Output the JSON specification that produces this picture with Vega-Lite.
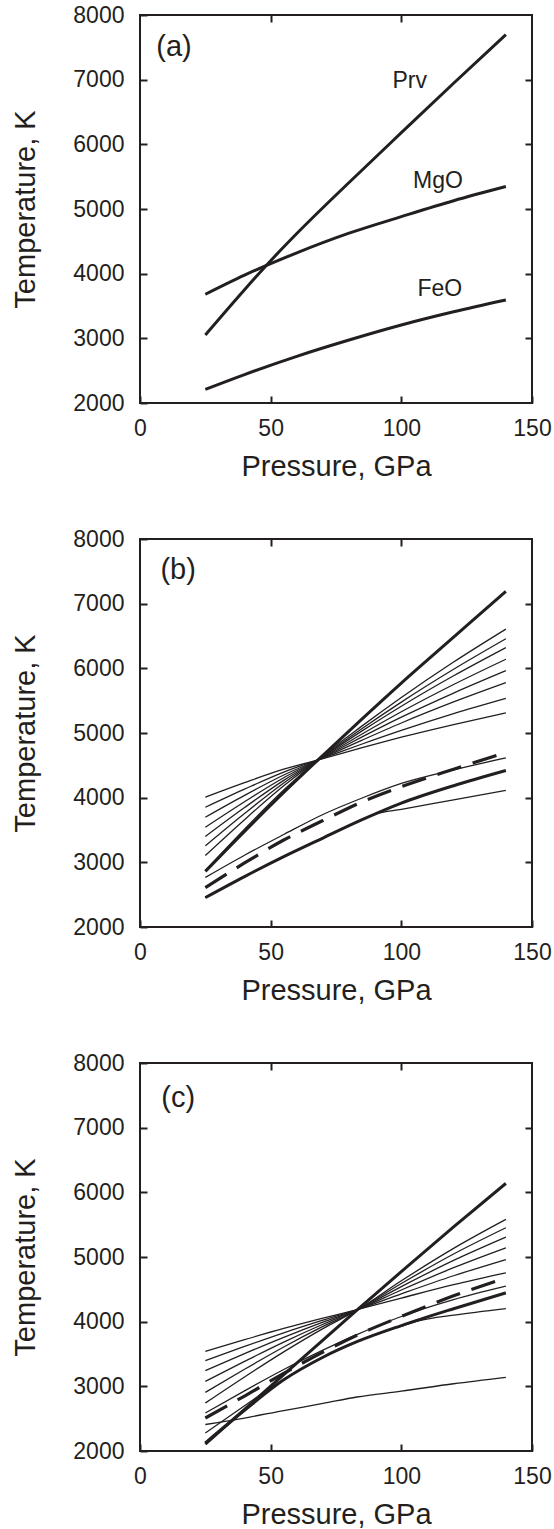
{
  "$schema": "https://vega.github.io/schema/vega-lite/v6.json",
  "background": "white",
  "padding": {"left": 10, "top": 3, "right": 5, "bottom": 5},
  "bounds": "flush",
  "spacing": 136,
  "config": {
    "font": "Liberation Sans",
    "view": {"stroke": "#231f20", "strokeWidth": 2},
    "axis": {
      "labelFont": "Liberation Sans", "titleFont": "Liberation Sans",
      "labelFontSize": 23, "titleFontSize": 29, "titleFontWeight": "normal",
      "labelColor": "#231f20", "titleColor": "#231f20",
      "ticks": true, "tickColor": "#231f20", "tickOpacity": 1, "tickWidth": 2, "tickSize": 7, "offset": -7,
      "grid": false, "domain": false, "labelFlush": false, "labelOverlap": false, "labelBound": false, "format": "d"
    },
    "axisX": {"labelPadding": 14.5},
    "axisY": {"labelPadding": 16},
    "line": {"color": "#231f20", "interpolate": "monotone", "strokeCap": "butt"},
    "text": {"font": "Liberation Sans", "color": "#231f20"}
  },
  "datasets": {
    "curves": [
      {"panel":"a","curve":"Prv","role":"pure","P":25,"T":3052},
      {"panel":"a","curve":"Prv","role":"pure","P":40,"T":3752},
      {"panel":"a","curve":"Prv","role":"pure","P":50,"T":4200},
      {"panel":"a","curve":"Prv","role":"pure","P":60,"T":4620},
      {"panel":"a","curve":"Prv","role":"pure","P":80,"T":5410},
      {"panel":"a","curve":"Prv","role":"pure","P":100,"T":6180},
      {"panel":"a","curve":"Prv","role":"pure","P":120,"T":6945},
      {"panel":"a","curve":"Prv","role":"pure","P":140,"T":7695},
      {"panel":"a","curve":"MgO","role":"pure","P":25,"T":3681},
      {"panel":"a","curve":"MgO","role":"pure","P":40,"T":3977},
      {"panel":"a","curve":"MgO","role":"pure","P":60,"T":4322},
      {"panel":"a","curve":"MgO","role":"pure","P":80,"T":4626},
      {"panel":"a","curve":"MgO","role":"pure","P":100,"T":4882},
      {"panel":"a","curve":"MgO","role":"pure","P":120,"T":5128},
      {"panel":"a","curve":"MgO","role":"pure","P":140,"T":5347},
      {"panel":"a","curve":"FeO","role":"pure","P":25,"T":2211},
      {"panel":"a","curve":"FeO","role":"pure","P":40,"T":2440},
      {"panel":"a","curve":"FeO","role":"pure","P":60,"T":2722},
      {"panel":"a","curve":"FeO","role":"pure","P":80,"T":2974},
      {"panel":"a","curve":"FeO","role":"pure","P":100,"T":3206},
      {"panel":"a","curve":"FeO","role":"pure","P":120,"T":3410},
      {"panel":"a","curve":"FeO","role":"pure","P":140,"T":3593},

      {"panel":"b","curve":"top","role":"pure","P":25,"T":2860},
      {"panel":"b","curve":"top","role":"pure","P":40,"T":3479},
      {"panel":"b","curve":"top","role":"pure","P":55,"T":4081},
      {"panel":"b","curve":"top","role":"pure","P":70,"T":4655},
      {"panel":"b","curve":"top","role":"pure","P":85,"T":5218},
      {"panel":"b","curve":"top","role":"pure","P":100,"T":5771},
      {"panel":"b","curve":"top","role":"pure","P":120,"T":6481},
      {"panel":"b","curve":"top","role":"pure","P":140,"T":7191},
      {"panel":"b","curve":"m1","role":"mix","P":25,"T":4008},
      {"panel":"b","curve":"m1","role":"mix","P":40,"T":4232},
      {"panel":"b","curve":"m1","role":"mix","P":55,"T":4440},
      {"panel":"b","curve":"m1","role":"mix","P":70,"T":4604},
      {"panel":"b","curve":"m1","role":"mix","P":85,"T":4775},
      {"panel":"b","curve":"m1","role":"mix","P":100,"T":4935},
      {"panel":"b","curve":"m1","role":"mix","P":120,"T":5130},
      {"panel":"b","curve":"m1","role":"mix","P":140,"T":5312},
      {"panel":"b","curve":"m2","role":"mix","P":25,"T":3852},
      {"panel":"b","curve":"m2","role":"mix","P":40,"T":4132},
      {"panel":"b","curve":"m2","role":"mix","P":55,"T":4395},
      {"panel":"b","curve":"m2","role":"mix","P":70,"T":4610},
      {"panel":"b","curve":"m2","role":"mix","P":85,"T":4830},
      {"panel":"b","curve":"m2","role":"mix","P":100,"T":5040},
      {"panel":"b","curve":"m2","role":"mix","P":120,"T":5300},
      {"panel":"b","curve":"m2","role":"mix","P":140,"T":5536},
      {"panel":"b","curve":"m3","role":"mix","P":25,"T":3697},
      {"panel":"b","curve":"m3","role":"mix","P":40,"T":4035},
      {"panel":"b","curve":"m3","role":"mix","P":55,"T":4350},
      {"panel":"b","curve":"m3","role":"mix","P":70,"T":4616},
      {"panel":"b","curve":"m3","role":"mix","P":85,"T":4890},
      {"panel":"b","curve":"m3","role":"mix","P":100,"T":5155},
      {"panel":"b","curve":"m3","role":"mix","P":120,"T":5480},
      {"panel":"b","curve":"m3","role":"mix","P":140,"T":5778},
      {"panel":"b","curve":"m4","role":"mix","P":25,"T":3542},
      {"panel":"b","curve":"m4","role":"mix","P":40,"T":3937},
      {"panel":"b","curve":"m4","role":"mix","P":55,"T":4308},
      {"panel":"b","curve":"m4","role":"mix","P":70,"T":4622},
      {"panel":"b","curve":"m4","role":"mix","P":85,"T":4940},
      {"panel":"b","curve":"m4","role":"mix","P":100,"T":5245},
      {"panel":"b","curve":"m4","role":"mix","P":120,"T":5618},
      {"panel":"b","curve":"m4","role":"mix","P":140,"T":5964},
      {"panel":"b","curve":"m5","role":"mix","P":25,"T":3400},
      {"panel":"b","curve":"m5","role":"mix","P":40,"T":3847},
      {"panel":"b","curve":"m5","role":"mix","P":55,"T":4268},
      {"panel":"b","curve":"m5","role":"mix","P":70,"T":4628},
      {"panel":"b","curve":"m5","role":"mix","P":85,"T":4985},
      {"panel":"b","curve":"m5","role":"mix","P":100,"T":5328},
      {"panel":"b","curve":"m5","role":"mix","P":120,"T":5750},
      {"panel":"b","curve":"m5","role":"mix","P":140,"T":6141},
      {"panel":"b","curve":"m6","role":"mix","P":25,"T":3255},
      {"panel":"b","curve":"m6","role":"mix","P":40,"T":3755},
      {"panel":"b","curve":"m6","role":"mix","P":55,"T":4227},
      {"panel":"b","curve":"m6","role":"mix","P":70,"T":4634},
      {"panel":"b","curve":"m6","role":"mix","P":85,"T":5033},
      {"panel":"b","curve":"m6","role":"mix","P":100,"T":5414},
      {"panel":"b","curve":"m6","role":"mix","P":120,"T":5885},
      {"panel":"b","curve":"m6","role":"mix","P":140,"T":6321},
      {"panel":"b","curve":"m7","role":"mix","P":25,"T":3106},
      {"panel":"b","curve":"m7","role":"mix","P":40,"T":3660},
      {"panel":"b","curve":"m7","role":"mix","P":55,"T":4184},
      {"panel":"b","curve":"m7","role":"mix","P":70,"T":4640},
      {"panel":"b","curve":"m7","role":"mix","P":85,"T":5070},
      {"panel":"b","curve":"m7","role":"mix","P":100,"T":5478},
      {"panel":"b","curve":"m7","role":"mix","P":120,"T":5985},
      {"panel":"b","curve":"m7","role":"mix","P":140,"T":6457},
      {"panel":"b","curve":"m8","role":"mix","P":25,"T":2875},
      {"panel":"b","curve":"m8","role":"mix","P":40,"T":3514},
      {"panel":"b","curve":"m8","role":"mix","P":55,"T":4118},
      {"panel":"b","curve":"m8","role":"mix","P":70,"T":4648},
      {"panel":"b","curve":"m8","role":"mix","P":85,"T":5110},
      {"panel":"b","curve":"m8","role":"mix","P":100,"T":5550},
      {"panel":"b","curve":"m8","role":"mix","P":120,"T":6098},
      {"panel":"b","curve":"m8","role":"mix","P":140,"T":6607},
      {"panel":"b","curve":"mean","role":"mean","P":25,"T":2610},
      {"panel":"b","curve":"mean","role":"mean","P":40,"T":2990},
      {"panel":"b","curve":"mean","role":"mean","P":55,"T":3345},
      {"panel":"b","curve":"mean","role":"mean","P":70,"T":3646},
      {"panel":"b","curve":"mean","role":"mean","P":85,"T":3935},
      {"panel":"b","curve":"mean","role":"mean","P":100,"T":4170},
      {"panel":"b","curve":"mean","role":"mean","P":120,"T":4440},
      {"panel":"b","curve":"mean","role":"mean","P":140,"T":4697},
      {"panel":"b","curve":"m9","role":"mix","P":25,"T":2766},
      {"panel":"b","curve":"m9","role":"mix","P":40,"T":3110},
      {"panel":"b","curve":"m9","role":"mix","P":55,"T":3430},
      {"panel":"b","curve":"m9","role":"mix","P":70,"T":3740},
      {"panel":"b","curve":"m9","role":"mix","P":85,"T":3995},
      {"panel":"b","curve":"m9","role":"mix","P":100,"T":4220},
      {"panel":"b","curve":"m9","role":"mix","P":120,"T":4430},
      {"panel":"b","curve":"m9","role":"mix","P":140,"T":4614},
      {"panel":"b","curve":"bottom","role":"pure","P":25,"T":2455},
      {"panel":"b","curve":"bottom","role":"pure","P":40,"T":2780},
      {"panel":"b","curve":"bottom","role":"pure","P":55,"T":3088},
      {"panel":"b","curve":"bottom","role":"pure","P":70,"T":3376},
      {"panel":"b","curve":"bottom","role":"pure","P":85,"T":3659},
      {"panel":"b","curve":"bottom","role":"pure","P":100,"T":3915},
      {"panel":"b","curve":"bottom","role":"pure","P":120,"T":4185},
      {"panel":"b","curve":"bottom","role":"pure","P":140,"T":4420},
      {"panel":"b","curve":"m10","role":"mix","P":25,"T":2455},
      {"panel":"b","curve":"m10","role":"mix","P":40,"T":2780},
      {"panel":"b","curve":"m10","role":"mix","P":55,"T":3088},
      {"panel":"b","curve":"m10","role":"mix","P":70,"T":3376},
      {"panel":"b","curve":"m10","role":"mix","P":85,"T":3659},
      {"panel":"b","curve":"m10","role":"mix","P":90,"T":3745},
      {"panel":"b","curve":"m10","role":"mix","P":100,"T":3820},
      {"panel":"b","curve":"m10","role":"mix","P":120,"T":3966},
      {"panel":"b","curve":"m10","role":"mix","P":140,"T":4113},

      {"panel":"c","curve":"top","role":"pure","P":25,"T":2107},
      {"panel":"c","curve":"top","role":"pure","P":40,"T":2645},
      {"panel":"c","curve":"top","role":"pure","P":55,"T":3180},
      {"panel":"c","curve":"top","role":"pure","P":70,"T":3715},
      {"panel":"c","curve":"top","role":"pure","P":83,"T":4180},
      {"panel":"c","curve":"top","role":"pure","P":100,"T":4775},
      {"panel":"c","curve":"top","role":"pure","P":120,"T":5465},
      {"panel":"c","curve":"top","role":"pure","P":140,"T":6138},
      {"panel":"c","curve":"c1","role":"mix","P":25,"T":3542},
      {"panel":"c","curve":"c1","role":"mix","P":40,"T":3722},
      {"panel":"c","curve":"c1","role":"mix","P":55,"T":3895},
      {"panel":"c","curve":"c1","role":"mix","P":70,"T":4055},
      {"panel":"c","curve":"c1","role":"mix","P":83,"T":4185},
      {"panel":"c","curve":"c1","role":"mix","P":100,"T":4365},
      {"panel":"c","curve":"c1","role":"mix","P":120,"T":4572},
      {"panel":"c","curve":"c1","role":"mix","P":140,"T":4755},
      {"panel":"c","curve":"c2","role":"mix","P":25,"T":3397},
      {"panel":"c","curve":"c2","role":"mix","P":40,"T":3617},
      {"panel":"c","curve":"c2","role":"mix","P":55,"T":3828},
      {"panel":"c","curve":"c2","role":"mix","P":70,"T":4023},
      {"panel":"c","curve":"c2","role":"mix","P":83,"T":4183},
      {"panel":"c","curve":"c2","role":"mix","P":100,"T":4430},
      {"panel":"c","curve":"c2","role":"mix","P":120,"T":4710},
      {"panel":"c","curve":"c2","role":"mix","P":140,"T":4961},
      {"panel":"c","curve":"c3","role":"mix","P":25,"T":3243},
      {"panel":"c","curve":"c3","role":"mix","P":40,"T":3506},
      {"panel":"c","curve":"c3","role":"mix","P":55,"T":3758},
      {"panel":"c","curve":"c3","role":"mix","P":70,"T":3993},
      {"panel":"c","curve":"c3","role":"mix","P":83,"T":4181},
      {"panel":"c","curve":"c3","role":"mix","P":100,"T":4490},
      {"panel":"c","curve":"c3","role":"mix","P":120,"T":4835},
      {"panel":"c","curve":"c3","role":"mix","P":140,"T":5142},
      {"panel":"c","curve":"c4","role":"mix","P":25,"T":3077},
      {"panel":"c","curve":"c4","role":"mix","P":40,"T":3386},
      {"panel":"c","curve":"c4","role":"mix","P":55,"T":3684},
      {"panel":"c","curve":"c4","role":"mix","P":70,"T":3960},
      {"panel":"c","curve":"c4","role":"mix","P":83,"T":4180},
      {"panel":"c","curve":"c4","role":"mix","P":100,"T":4543},
      {"panel":"c","curve":"c4","role":"mix","P":120,"T":4947},
      {"panel":"c","curve":"c4","role":"mix","P":140,"T":5307},
      {"panel":"c","curve":"c5","role":"mix","P":25,"T":2907},
      {"panel":"c","curve":"c5","role":"mix","P":40,"T":3264},
      {"panel":"c","curve":"c5","role":"mix","P":55,"T":3608},
      {"panel":"c","curve":"c5","role":"mix","P":70,"T":3926},
      {"panel":"c","curve":"c5","role":"mix","P":83,"T":4178},
      {"panel":"c","curve":"c5","role":"mix","P":100,"T":4590},
      {"panel":"c","curve":"c5","role":"mix","P":120,"T":5046},
      {"panel":"c","curve":"c5","role":"mix","P":140,"T":5452},
      {"panel":"c","curve":"c6","role":"mix","P":25,"T":2742},
      {"panel":"c","curve":"c6","role":"mix","P":40,"T":3145},
      {"panel":"c","curve":"c6","role":"mix","P":55,"T":3533},
      {"panel":"c","curve":"c6","role":"mix","P":70,"T":3893},
      {"panel":"c","curve":"c6","role":"mix","P":83,"T":4176},
      {"panel":"c","curve":"c6","role":"mix","P":100,"T":4632},
      {"panel":"c","curve":"c6","role":"mix","P":120,"T":5133},
      {"panel":"c","curve":"c6","role":"mix","P":140,"T":5581},
      {"panel":"c","curve":"mean","role":"mean","P":25,"T":2510},
      {"panel":"c","curve":"mean","role":"mean","P":40,"T":2850},
      {"panel":"c","curve":"mean","role":"mean","P":55,"T":3200},
      {"panel":"c","curve":"mean","role":"mean","P":70,"T":3530},
      {"panel":"c","curve":"mean","role":"mean","P":83,"T":3790},
      {"panel":"c","curve":"mean","role":"mean","P":100,"T":4080},
      {"panel":"c","curve":"mean","role":"mean","P":120,"T":4400},
      {"panel":"c","curve":"mean","role":"mean","P":140,"T":4677},
      {"panel":"c","curve":"bottom","role":"pure","P":25,"T":2125},
      {"panel":"c","curve":"bottom","role":"pure","P":40,"T":2630},
      {"panel":"c","curve":"bottom","role":"pure","P":55,"T":3100},
      {"panel":"c","curve":"bottom","role":"pure","P":70,"T":3450},
      {"panel":"c","curve":"bottom","role":"pure","P":83,"T":3690},
      {"panel":"c","curve":"bottom","role":"pure","P":100,"T":3940},
      {"panel":"c","curve":"bottom","role":"pure","P":120,"T":4200},
      {"panel":"c","curve":"bottom","role":"pure","P":140,"T":4445},
      {"panel":"c","curve":"c7","role":"mix","P":25,"T":2277},
      {"panel":"c","curve":"c7","role":"mix","P":40,"T":2700},
      {"panel":"c","curve":"c7","role":"mix","P":55,"T":3110},
      {"panel":"c","curve":"c7","role":"mix","P":70,"T":3450},
      {"panel":"c","curve":"c7","role":"mix","P":83,"T":3690},
      {"panel":"c","curve":"c7","role":"mix","P":100,"T":3930},
      {"panel":"c","curve":"c7","role":"mix","P":107,"T":4015},
      {"panel":"c","curve":"c7","role":"mix","P":120,"T":4100},
      {"panel":"c","curve":"c7","role":"mix","P":140,"T":4203},
      {"panel":"c","curve":"c8","role":"mix","P":25,"T":2587},
      {"panel":"c","curve":"c8","role":"mix","P":40,"T":2930},
      {"panel":"c","curve":"c8","role":"mix","P":55,"T":3260},
      {"panel":"c","curve":"c8","role":"mix","P":70,"T":3560},
      {"panel":"c","curve":"c8","role":"mix","P":83,"T":3800},
      {"panel":"c","curve":"c8","role":"mix","P":100,"T":4080},
      {"panel":"c","curve":"c8","role":"mix","P":120,"T":4340},
      {"panel":"c","curve":"c8","role":"mix","P":140,"T":4548},
      {"panel":"c","curve":"c9","role":"mix","P":25,"T":2410},
      {"panel":"c","curve":"c9","role":"mix","P":40,"T":2510},
      {"panel":"c","curve":"c9","role":"mix","P":55,"T":2625},
      {"panel":"c","curve":"c9","role":"mix","P":70,"T":2735},
      {"panel":"c","curve":"c9","role":"mix","P":83,"T":2835},
      {"panel":"c","curve":"c9","role":"mix","P":100,"T":2925},
      {"panel":"c","curve":"c9","role":"mix","P":120,"T":3040},
      {"panel":"c","curve":"c9","role":"mix","P":140,"T":3139}
    ],
    "tags": [
      {"panel":"a","tag":"(a)","P":13.0,"T":7505},
      {"panel":"b","tag":"(b)","P":14.6,"T":7517},
      {"panel":"c","tag":"(c)","P":14.6,"T":7454}
    ],
    "names": [
      {"panel":"a","name":"Prv","P":103.2,"T":6972},
      {"panel":"a","name":"MgO","P":114.0,"T":5435},
      {"panel":"a","name":"FeO","P":114.7,"T":3759}
    ]
  },
  "vconcat": [
    {
      "width": 392, "height": 388,
      "resolve": {"axis": {"x": "independent", "y": "independent"}},
      "layer": [
        {
          "data": {"name": "curves"},
          "transform": [{"filter": "datum.panel === 'a' && datum.role === 'pure'"}],
          "mark": {"type": "line", "strokeWidth": 3},
          "encoding": {
            "x": {"field": "P", "type": "quantitative", "scale": {"domain": [0, 150], "nice": false},
                  "axis": {"orient": "bottom", "values": [0, 50, 100, 150], "title": "Pressure, GPa", "titleY": 79, "titleBaseline": "alphabetic"}},
            "y": {"field": "T", "type": "quantitative", "scale": {"domain": [2000, 8000], "nice": false, "zero": false},
                  "axis": {"orient": "left", "values": [2000, 3000, 4000, 5000, 6000, 7000, 8000], "title": "Temperature, K", "titleX": -113, "titleBaseline": "alphabetic"}},
            "detail": {"field": "curve", "type": "nominal"}
          }
        },
        {
          "data": {"name": "tags"},
          "transform": [{"filter": "datum.panel === 'a'"}],
          "mark": {"type": "text", "fontSize": 29, "align": "center", "baseline": "middle"},
          "encoding": {
            "x": {"field": "P", "type": "quantitative", "scale": {"domain": [0, 150], "nice": false},
                  "axis": {"orient": "top", "values": [50, 100], "labels": false, "title": null}},
            "y": {"field": "T", "type": "quantitative", "scale": {"domain": [2000, 8000], "nice": false, "zero": false},
                  "axis": {"orient": "right", "values": [3000, 4000, 5000, 6000, 7000], "labels": false, "title": null}},
            "text": {"field": "tag"}
          }
        },
        {
          "data": {"name": "names"},
          "transform": [{"filter": "datum.panel === 'a'"}],
          "mark": {"type": "text", "fontSize": 23, "align": "center", "baseline": "middle"},
          "encoding": {
            "x": {"field": "P", "type": "quantitative", "scale": {"domain": [0, 150], "nice": false}, "axis": null},
            "y": {"field": "T", "type": "quantitative", "scale": {"domain": [2000, 8000], "nice": false, "zero": false}, "axis": null},
            "text": {"field": "name"}
          }
        }
      ]
    },
    {
      "width": 392, "height": 388,
      "resolve": {"axis": {"x": "independent", "y": "independent"}},
      "layer": [
        {
          "data": {"name": "curves"},
          "transform": [{"filter": "datum.panel === 'b' && datum.role === 'pure'"}],
          "mark": {"type": "line", "strokeWidth": 3},
          "encoding": {
            "x": {"field": "P", "type": "quantitative", "scale": {"domain": [0, 150], "nice": false},
                  "axis": {"orient": "bottom", "values": [0, 50, 100, 150], "title": "Pressure, GPa", "titleY": 79, "titleBaseline": "alphabetic"}},
            "y": {"field": "T", "type": "quantitative", "scale": {"domain": [2000, 8000], "nice": false, "zero": false},
                  "axis": {"orient": "left", "values": [2000, 3000, 4000, 5000, 6000, 7000, 8000], "title": "Temperature, K", "titleX": -113, "titleBaseline": "alphabetic"}},
            "detail": {"field": "curve", "type": "nominal"}
          }
        },
        {
          "data": {"name": "curves"},
          "transform": [{"filter": "datum.panel === 'b' && datum.role === 'mix'"}],
          "mark": {"type": "line", "strokeWidth": 1.3},
          "encoding": {
            "x": {"field": "P", "type": "quantitative", "scale": {"domain": [0, 150], "nice": false}, "axis": null},
            "y": {"field": "T", "type": "quantitative", "scale": {"domain": [2000, 8000], "nice": false, "zero": false}, "axis": null},
            "detail": {"field": "curve", "type": "nominal"}
          }
        },
        {
          "data": {"name": "curves"},
          "transform": [{"filter": "datum.panel === 'b' && datum.role === 'mean'"}],
          "mark": {"type": "line", "strokeWidth": 3.2, "strokeDash": [25, 12]},
          "encoding": {
            "x": {"field": "P", "type": "quantitative", "scale": {"domain": [0, 150], "nice": false}, "axis": null},
            "y": {"field": "T", "type": "quantitative", "scale": {"domain": [2000, 8000], "nice": false, "zero": false}, "axis": null},
            "detail": {"field": "curve", "type": "nominal"}
          }
        },
        {
          "data": {"name": "tags"},
          "transform": [{"filter": "datum.panel === 'b'"}],
          "mark": {"type": "text", "fontSize": 29, "align": "center", "baseline": "middle"},
          "encoding": {
            "x": {"field": "P", "type": "quantitative", "scale": {"domain": [0, 150], "nice": false},
                  "axis": {"orient": "top", "values": [50, 100], "labels": false, "title": null}},
            "y": {"field": "T", "type": "quantitative", "scale": {"domain": [2000, 8000], "nice": false, "zero": false},
                  "axis": {"orient": "right", "values": [3000, 4000, 5000, 6000, 7000], "labels": false, "title": null}},
            "text": {"field": "tag"}
          }
        }
      ]
    },
    {
      "width": 392, "height": 388,
      "resolve": {"axis": {"x": "independent", "y": "independent"}},
      "layer": [
        {
          "data": {"name": "curves"},
          "transform": [{"filter": "datum.panel === 'c' && datum.role === 'pure'"}],
          "mark": {"type": "line", "strokeWidth": 3},
          "encoding": {
            "x": {"field": "P", "type": "quantitative", "scale": {"domain": [0, 150], "nice": false},
                  "axis": {"orient": "bottom", "values": [0, 50, 100, 150], "title": "Pressure, GPa", "titleY": 79, "titleBaseline": "alphabetic"}},
            "y": {"field": "T", "type": "quantitative", "scale": {"domain": [2000, 8000], "nice": false, "zero": false},
                  "axis": {"orient": "left", "values": [2000, 3000, 4000, 5000, 6000, 7000, 8000], "title": "Temperature, K", "titleX": -113, "titleBaseline": "alphabetic"}},
            "detail": {"field": "curve", "type": "nominal"}
          }
        },
        {
          "data": {"name": "curves"},
          "transform": [{"filter": "datum.panel === 'c' && datum.role === 'mix'"}],
          "mark": {"type": "line", "strokeWidth": 1.3},
          "encoding": {
            "x": {"field": "P", "type": "quantitative", "scale": {"domain": [0, 150], "nice": false}, "axis": null},
            "y": {"field": "T", "type": "quantitative", "scale": {"domain": [2000, 8000], "nice": false, "zero": false}, "axis": null},
            "detail": {"field": "curve", "type": "nominal"}
          }
        },
        {
          "data": {"name": "curves"},
          "transform": [{"filter": "datum.panel === 'c' && datum.role === 'mean'"}],
          "mark": {"type": "line", "strokeWidth": 3.2, "strokeDash": [25, 12]},
          "encoding": {
            "x": {"field": "P", "type": "quantitative", "scale": {"domain": [0, 150], "nice": false}, "axis": null},
            "y": {"field": "T", "type": "quantitative", "scale": {"domain": [2000, 8000], "nice": false, "zero": false}, "axis": null},
            "detail": {"field": "curve", "type": "nominal"}
          }
        },
        {
          "data": {"name": "tags"},
          "transform": [{"filter": "datum.panel === 'c'"}],
          "mark": {"type": "text", "fontSize": 29, "align": "center", "baseline": "middle"},
          "encoding": {
            "x": {"field": "P", "type": "quantitative", "scale": {"domain": [0, 150], "nice": false},
                  "axis": {"orient": "top", "values": [50, 100], "labels": false, "title": null}},
            "y": {"field": "T", "type": "quantitative", "scale": {"domain": [2000, 8000], "nice": false, "zero": false},
                  "axis": {"orient": "right", "values": [3000, 4000, 5000, 6000, 7000], "labels": false, "title": null}},
            "text": {"field": "tag"}
          }
        }
      ]
    }
  ]
}
